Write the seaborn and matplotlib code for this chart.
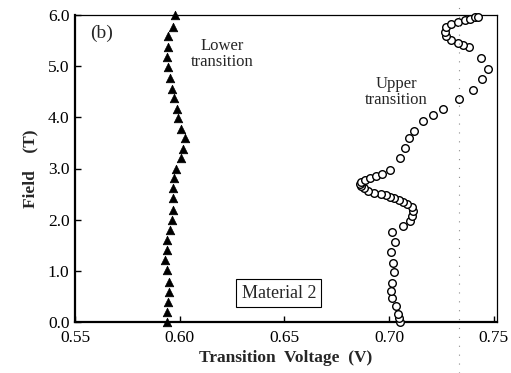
import numpy as np
import pandas as pd
import matplotlib
matplotlib.use("Agg")
import matplotlib.pyplot as plt
import matplotlib.lines as mlines
import seaborn as sns

# Lower transition (filled triangles)
lower_field = [6.00, 5.77, 5.59, 5.38, 5.18, 4.99, 4.76, 4.56, 4.37, 4.17, 3.98,
               3.78, 3.59, 3.39, 3.20, 3.00, 2.81, 2.61, 2.42, 2.19, 1.99, 1.80,
               1.60, 1.41, 1.21, 1.02, 0.79, 0.59, 0.40, 0.20, 0.00]
lower_volt = [0.5977, 0.5969, 0.5945, 0.5942, 0.5941, 0.5942, 0.5953, 0.5964,
              0.5974, 0.5985, 0.5993, 0.6004, 0.6025, 0.6014, 0.6004, 0.5982,
              0.5974, 0.5966, 0.5966, 0.5966, 0.5964, 0.5953, 0.5941, 0.5941,
              0.5929, 0.5941, 0.5950, 0.5949, 0.5945, 0.5941, 0.5937]

# Upper transition (open circles)
upper_field = [0.00, 0.07, 0.16, 0.31, 0.46, 0.61, 0.76, 0.98, 1.16, 1.36, 1.57,
               1.76, 1.88, 1.97, 2.07, 2.16, 2.24, 2.30, 2.34, 2.38, 2.42, 2.45,
               2.48, 2.50, 2.53, 2.57, 2.61, 2.65, 2.69, 2.73, 2.77, 2.81, 2.85,
               2.90, 2.97, 3.20, 3.40, 3.60, 3.73, 3.93, 4.05, 4.17, 4.35, 4.54,
               4.75, 4.95, 5.15, 5.38, 5.41, 5.45, 5.51, 5.59, 5.67, 5.77, 5.82,
               5.87, 5.91, 5.93, 5.96, 5.97]
upper_volt = [0.7050, 0.7048, 0.7042, 0.7031, 0.7016, 0.7011, 0.7016, 0.7025,
              0.7020, 0.7008, 0.7027, 0.7013, 0.7066, 0.7098, 0.7110, 0.7116,
              0.7108, 0.7085, 0.7065, 0.7048, 0.7025, 0.7005, 0.6985, 0.6960,
              0.6930, 0.6900, 0.6880, 0.6868, 0.6862, 0.6868, 0.6884, 0.6907,
              0.6936, 0.6968, 0.7006, 0.7050, 0.7075, 0.7095, 0.7118, 0.7162,
              0.7209, 0.7257, 0.7335, 0.7400, 0.7444, 0.7472, 0.7440, 0.7383,
              0.7353, 0.7329, 0.7297, 0.7273, 0.7265, 0.7273, 0.7297, 0.7329,
              0.7361, 0.7385, 0.7410, 0.7425]

x_ticks = [0.55, 0.60, 0.65, 0.70, 0.75]
x_ticklabels = ["0.55", "0.60", "0.65", "0.70", "0.75"]
y_ticks = [0, 1, 2, 3, 4, 5, 6]
y_ticklabels = ["0.0", "1.0", "2.0", "3.0", "4.0", "5.0", "6.0"]

sns.set_theme(style="white")
plt.rcParams['font.family'] = ['Liberation Serif', 'DejaVu Serif']

df_low = pd.DataFrame({"V": lower_volt, "F": lower_field})
df_up = pd.DataFrame({"V": upper_volt, "F": upper_field})

fig = plt.figure(figsize=(5.11, 3.73), dpi=100)
ax = fig.add_axes([75/511, 1-322/373, (497-75)/511, (322-15)/373])

sns.scatterplot(data=df_low, x="V", y="F", marker="^", s=38, color="black",
                edgecolor="black", linewidth=0.5, ax=ax, zorder=3, clip_on=False)
sns.scatterplot(data=df_up, x="V", y="F", marker="o", s=30, facecolor="white",
                edgecolor="black", linewidth=1.0, ax=ax, zorder=3, clip_on=False)

ax.set_xlim(0.55, 0.7515)
ax.set_ylim(0, 6)
ax.set_xticks(x_ticks)
ax.set_xticklabels(x_ticklabels)
ax.set_yticks(y_ticks)
ax.set_yticklabels(y_ticklabels)
ax.tick_params(direction="in", length=4, width=1, labelsize=12.5, colors="black",
               left=True, bottom=True)
ax.tick_params(axis="x", pad=6)
ax.tick_params(axis="y", pad=4)
for s in ["left", "bottom"]:
    ax.spines[s].set_linewidth(1.6)
    ax.spines[s].set_color("black")
for s in ["top", "right"]:
    ax.spines[s].set_linewidth(0.9)
    ax.spines[s].set_color("black")

ax.set_xlabel("Transition  Voltage  (V)", fontsize=12.5, fontweight="bold", labelpad=3)
ax.set_ylabel("Field    (T)", fontsize=12.5, fontweight="bold", labelpad=7)

ax.text(0.5572, 5.64, "(b)", fontsize=14, ha="left", va="center")
ax.text(0.6201, 5.23, "Lower\ntransition", fontsize=12, ha="center", va="center",
        linespacing=1.0)
ax.text(0.7036, 4.50, "Upper\ntransition", fontsize=12, ha="center", va="center",
        linespacing=1.0)
ax.text(0.6473, 0.56, "Material 2", fontsize=13, ha="center", va="center",
        bbox=dict(boxstyle="square,pad=0.3", facecolor="white", edgecolor="black",
                  linewidth=0.8))

# faint dotted scan line seen in the reference
fig.add_artist(mlines.Line2D([459/511, 459/511], [0.0, 0.98], transform=fig.transFigure,
                             color="0.55", linewidth=0.8, linestyle=(0, (1, 7))))

fig.savefig("out.png", dpi=100)
